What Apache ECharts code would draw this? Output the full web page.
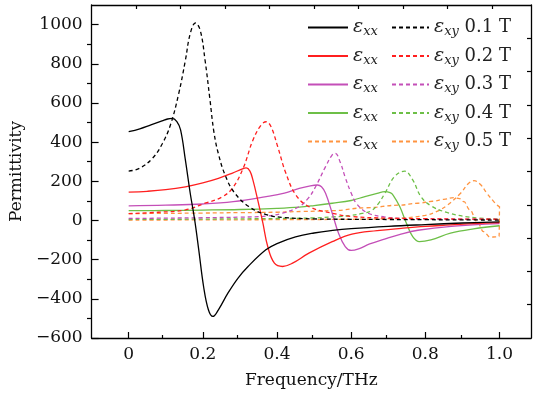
<!DOCTYPE html>
<html>
<head>
<meta charset="utf-8">
<script src="https://cdn.jsdelivr.net/npm/echarts@6/dist/echarts.min.js"></script>
<style>
  html, body { margin: 0; padding: 0; background: #fff; }
  #chart { width: 535px; height: 396px; }
</style>
</head>
<body>
<div id="chart"></div>
<script>
// permittivity curves, [frequency THz, value]
var xx1 = [[0,453],[0.03,468],[0.06,488],[0.09,508],[0.105,518],[0.117,521],[0.13,505],[0.14,462],[0.153,308],[0.166,139],[0.178,3],[0.189,-150],[0.202,-337],[0.215,-456],[0.227,-490],[0.242,-456],[0.268,-370],[0.295,-294],[0.322,-235],[0.37,-150],[0.4,-118],[0.45,-84],[0.5,-64],[0.55,-51],[0.6,-42],[0.7,-30],[0.8,-21],[0.9,-13],[1.0,-7]];
var xy1 = [[0,252],[0.029,266],[0.064,317],[0.091,393],[0.113,490],[0.135,648],[0.153,818],[0.166,954],[0.18,1008],[0.193,971],[0.206,818],[0.219,620],[0.23,450],[0.242,340],[0.26,232],[0.284,145],[0.324,71],[0.371,30],[0.42,15],[0.5,8],[0.6,6],[0.7,5],[0.8,4],[0.9,3],[1.0,2]];
var xx2 = [[0,145],[0.05,149],[0.1,157],[0.153,172],[0.2,192],[0.242,215],[0.28,242],[0.305,262],[0.317,268],[0.327,252],[0.335,207],[0.348,105],[0.362,-14],[0.375,-133],[0.393,-218],[0.415,-235],[0.442,-218],[0.486,-167],[0.549,-108],[0.602,-70],[0.67,-52],[0.735,-40],[0.8,-30],[0.868,-23],[0.93,-16],[1.0,-11]];
var xy2 = [[0,35],[0.08,42],[0.153,54],[0.206,88],[0.25,118],[0.28,165],[0.309,268],[0.335,410],[0.357,487],[0.371,504],[0.384,478],[0.402,376],[0.424,241],[0.451,130],[0.486,71],[0.549,37],[0.602,20],[0.7,12],[0.8,9],[0.9,7],[1.0,6]];
var xx3 = [[0,75],[0.1,78],[0.2,84],[0.282,96],[0.371,122],[0.42,140],[0.46,164],[0.49,177],[0.509,181],[0.52,172],[0.531,139],[0.549,37],[0.566,-65],[0.584,-133],[0.6,-153],[0.62,-145],[0.65,-120],[0.69,-95],[0.73,-72],[0.78,-50],[0.87,-30],[1.0,-16]];
var xy3 = [[0,10],[0.1,12],[0.2,14],[0.3,17],[0.371,22],[0.415,37],[0.46,71],[0.485,115],[0.504,172],[0.531,275],[0.549,335],[0.557,343],[0.57,300],[0.584,220],[0.6,140],[0.615,85],[0.646,37],[0.69,18],[0.726,11],[0.8,8],[0.9,7],[1.0,6]];
var xx4 = [[0,50],[0.1,51],[0.2,53],[0.3,56],[0.4,62],[0.46,68],[0.5,76],[0.549,88],[0.6,102],[0.637,122],[0.67,138],[0.691,147],[0.705,142],[0.713,130],[0.731,71],[0.749,-14],[0.766,-82],[0.784,-108],[0.815,-99],[0.868,-65],[0.93,-43],[1.0,-27]];
var xy4 = [[0,5],[0.2,7],[0.4,10],[0.5,13],[0.55,18],[0.6,26],[0.63,36],[0.655,50],[0.675,90],[0.691,139],[0.717,224],[0.744,252],[0.766,207],[0.788,122],[0.815,75],[0.86,40],[0.92,17],[1.0,7]];
var xx5 = [[0,35],[0.1,36],[0.2,38],[0.3,40],[0.4,42],[0.47,46],[0.55,50],[0.64,65],[0.73,78],[0.78,88],[0.82,98],[0.85,108],[0.877,117],[0.892,112],[0.904,96],[0.92,54],[0.94,-6],[0.957,-57],[0.975,-85],[0.99,-84],[0.999,-82],[1.0,72]];
var xy5 = [[0,2],[0.2,3],[0.4,4],[0.6,6],[0.7,9],[0.75,14],[0.8,26],[0.83,45],[0.86,79],[0.895,139],[0.917,190],[0.931,203],[0.948,185],[0.966,139],[0.983,100],[0.993,80],[1.0,70]];

var fields = ["0.1 T", "0.2 T", "0.3 T", "0.4 T", "0.5 T"];
var colors = ["#000000", "#ff1f1f", "#c44fb8", "#6dbf47", "#ff9440"];

// tick positions
var xMajorTicks = [0, 0.2, 0.4, 0.6, 0.8, 1.0];
var xMinorTicks = [0.1, 0.3, 0.5, 0.7, 0.9];
var xTopTicks = [0.02, 0.14, 0.26, 0.38, 0.5, 0.62, 0.74, 0.86, 0.98];
var yMajorTicks = [-600, -400, -200, 0, 200, 400, 600, 800, 1000];
var yMinorTicks = [-500, -300, -100, 100, 300, 500, 700, 900];
var yRightTicks = [-430, -260, -90, 80, 250, 420, 590, 760, 930];

var serif = "DejaVu Serif";
var axisColor = "#000";

var xxData = [xx1, xx2, xx3, xx4, xx5];
var xyData = [xy1, xy2, xy3, xy4, xy5];

var series = [];
var xxNames = [], xyNames = [];
for (var i = 0; i < 5; i++) {
  xxNames.push("xx" + i);
  xyNames.push("xy" + i);
  series.push({
    name: "xx" + i,
    type: "line",
    data: xxData[i],
    smooth: 0.4,
    smoothMonotone: i === 4 ? "x" : undefined,
    symbol: "none",
    lineStyle: { color: colors[i], width: 1.3, type: i === 4 ? [4, 3] : "solid" },
    itemStyle: { color: colors[i] },
    z: 5 - i
  });
}
for (var j = 0; j < 5; j++) {
  series.push({
    name: "xy" + j,
    type: "line",
    data: xyData[j],
    smooth: 0.4,
    symbol: "none",
    lineStyle: { color: colors[j], width: 1.3, type: [4, 3] },
    itemStyle: { color: colors[j] },
    z: 5 - j
  });
}

var legendRich = {
  e: { fontFamily: serif, fontStyle: "italic", fontSize: 19, color: "#222", lineHeight: 22, verticalAlign: "middle" },
  s: { fontFamily: serif, fontStyle: "italic", fontSize: 13, color: "#222", lineHeight: 13, verticalAlign: "bottom" },
  n: { fontFamily: serif, fontSize: 18, color: "#222", lineHeight: 22, verticalAlign: "middle" }
};

function legendName(name) {
  var k = +name.slice(2);
  if (name.indexOf("xx") === 0) return "{e|ε}{s|xx}";
  return "{e|ε}{s|xy}{n| " + fields[k] + "}";
}

function yFmt(v) {
  return v < 0 ? "\u2212" + (-v) : String(v);
}

var chart = echarts.init(document.getElementById("chart"));

chart.setOption({
  animation: false,
  backgroundColor: "#fff",
  grid: [
    { left: 87, right: 4, top: 5, bottom: 58 },
    { left: 87, right: 4, top: 5, bottom: 58 }
  ],
  legend: [
    {
      data: xxNames, orient: "vertical", left: 302, top: 13,
      itemWidth: 40, itemHeight: 2, itemGap: 8, selectedMode: false,
      itemStyle: { opacity: 0 },
      formatter: legendName, textStyle: { rich: legendRich }
    },
    {
      data: xyNames, orient: "vertical", left: 386, top: 13,
      itemWidth: 37, itemHeight: 2, itemGap: 8, selectedMode: false,
      itemStyle: { opacity: 0 },
      formatter: legendName, textStyle: { rich: legendRich }
    }
  ],
  xAxis: [
    {
      type: "value", gridIndex: 0, min: -0.1, max: 1.085, position: "bottom",
      name: "Frequency/THz", nameLocation: "middle", nameGap: 34,
      nameTextStyle: { fontFamily: serif, fontSize: 17, color: "#111" },
      axisLine: { onZero: false, lineStyle: { color: axisColor, width: 1.3 } },
      axisTick: { inside: true, length: 6, customValues: xMajorTicks, lineStyle: { color: axisColor, width: 1.2 } },
      axisLabel: {
        customValues: xMajorTicks, margin: 8, fontFamily: serif, fontSize: 17, color: "#111",
        formatter: function (v) { return v === 0 ? "0" : v.toFixed(1); }
      },
      splitLine: { show: false }
    },
    {
      type: "value", gridIndex: 0, min: -0.1, max: 1.085, position: "top",
      axisLine: { show: true, onZero: false, lineStyle: { color: axisColor, width: 1.3 } },
      axisTick: { inside: true, length: 4, customValues: xTopTicks, lineStyle: { color: axisColor, width: 1.2 } },
      axisLabel: { show: false },
      splitLine: { show: false }
    },
    {
      type: "value", gridIndex: 1, min: -0.1, max: 1.085, position: "bottom",
      axisLine: { show: false, onZero: false },
      axisTick: { inside: true, length: 3, customValues: xMinorTicks, lineStyle: { color: axisColor, width: 1.2 } },
      axisLabel: { show: false },
      splitLine: { show: false }
    }
  ],
  yAxis: [
    {
      type: "value", gridIndex: 0, min: -600, max: 1100, interval: 200, position: "left",
      name: "Permittivity", nameLocation: "middle", nameGap: 60,
      nameTextStyle: { fontFamily: serif, fontSize: 17, color: "#111" },
      axisLine: { show: true, onZero: false, lineStyle: { color: axisColor, width: 1.3 } },
      axisTick: { inside: true, length: 7, customValues: yMajorTicks, lineStyle: { color: axisColor, width: 1.2 } },
      axisLabel: { customValues: yMajorTicks, margin: 9, fontFamily: serif, fontSize: 17, color: "#111", formatter: yFmt },
      splitLine: { show: false }
    },
    {
      type: "value", gridIndex: 0, min: -600, max: 1100, position: "right",
      axisLine: { show: true, onZero: false, lineStyle: { color: axisColor, width: 1.3 } },
      axisTick: { inside: true, length: 4, customValues: yRightTicks, lineStyle: { color: axisColor, width: 1.2 } },
      axisLabel: { show: false },
      splitLine: { show: false }
    },
    {
      type: "value", gridIndex: 1, min: -600, max: 1100, position: "left",
      axisLine: { show: false, onZero: false },
      axisTick: { inside: true, length: 4, customValues: yMinorTicks, lineStyle: { color: axisColor, width: 1.2 } },
      axisLabel: { show: false },
      splitLine: { show: false }
    }
  ],
  series: series
});
</script>
</body>
</html>
